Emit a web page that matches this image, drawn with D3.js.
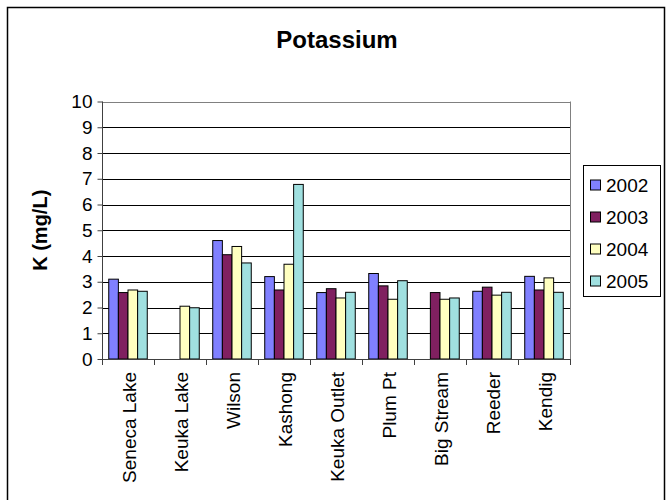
<!DOCTYPE html>
<html><head><meta charset="utf-8">
<script src="https://cdn.jsdelivr.net/npm/d3@7"></script>
<style>
body{margin:0;background:#fff;}
text{font-family:"Liberation Sans",Arial,sans-serif;}
</style></head>
<body>
<svg id="chart" width="666" height="500"></svg>
<script>
const categories = ["Seneca Lake","Keuka Lake","Wilson","Kashong","Keuka Outlet","Plum Pt","Big Stream","Reeder","Kendig"];
const years = ["2002","2003","2004","2005"];
const v2002 = [3.1, null, 4.6, 3.2, 2.58, 3.32, null, 2.63, 3.21];
const v2003 = [2.58, null, 4.05, 2.68, 2.73, 2.84, 2.58, 2.79, 2.68];
const v2004 = [2.68, 2.05, 4.37, 3.68, 2.37, 2.32, 2.32, 2.48, 3.15];
const v2005 = [2.63, 1.99, 3.73, 6.78, 2.59, 3.04, 2.37, 2.59, 2.59];
const yTicks = [0,1,2,3,4,5,6,7,8,9,10];
const colors = ["#8080FF","#802060","#FFFFC0","#A0E0E0"];
const series = [v2002, v2003, v2004, v2005];

const svg = d3.select("#chart");
const L = 102, R = 570, T = 101.5, B = 359;

// outer frame
svg.append("rect").attr("x",7.5).attr("y",7.5).attr("width",657).attr("height",510)
  .attr("fill","none").attr("stroke","#000").attr("stroke-width",1.5);

// title
svg.append("text").attr("x",337).attr("y",48).attr("text-anchor","middle")
  .attr("font-size",24).attr("font-weight","bold").text("Potassium");

const y = d3.scaleLinear().domain([0,10]).range([B,T]);
const x0 = d3.scaleBand().domain(categories).range([L,R]).padding(0);
const x1 = d3.scaleBand().domain(years).range([0,x0.bandwidth()]).paddingInner(0).paddingOuter(0.7);

// gridlines
svg.append("g").selectAll("line").data(yTicks.filter(t=>t>0)).join("line")
  .attr("x1",L).attr("x2",R).attr("y1",d=>Math.round(y(d))+0.5).attr("y2",d=>Math.round(y(d))+0.5)
  .attr("stroke",d=>d===10?"#808080":"#000").attr("stroke-width",1);
// right border of plot area
svg.append("line").attr("x1",R+0.5).attr("x2",R+0.5).attr("y1",T).attr("y2",B)
  .attr("stroke","#808080");

// bars
const rows = categories.map((c,i)=>({c, vals: series.map((s,j)=>({year:years[j], v:s[i], j}))}));
const g = svg.append("g");
rows.forEach(r=>{
  g.selectAll(null).data(r.vals.filter(d=>d.v!=null)).join("rect")
    .attr("x",d=>x0(r.c)+x1(d.year))
    .attr("y",d=>y(d.v))
    .attr("width",x1.bandwidth())
    .attr("height",d=>B-y(d.v))
    .attr("fill",d=>colors[d.j])
    .attr("stroke","#000").attr("stroke-width",1);
});

// y axis
const yAxis = d3.axisLeft(y).tickValues(yTicks).tickSize(5).tickPadding(5).tickFormat(d3.format("d"));
const ya = svg.append("g").attr("transform",`translate(${L+0.5},0)`).call(yAxis);
ya.select(".domain").attr("stroke","#404040").attr("d",`M0,${T}V${B+0.5}`);
ya.selectAll(".tick line").attr("stroke","#404040");
ya.selectAll("text").attr("font-size",19).attr("fill","#000");

// x axis line and ticks at category boundaries
svg.append("line").attr("x1",L).attr("x2",R+1).attr("y1",B+0.5).attr("y2",B+0.5).attr("stroke","#404040");
const bounds = categories.map(c=>x0(c)).concat([R]);
svg.append("g").selectAll("line").data(bounds).join("line")
  .attr("x1",d=>Math.round(d)+0.5).attr("x2",d=>Math.round(d)+0.5)
  .attr("y1",B).attr("y2",B+6).attr("stroke","#404040");

// category labels
svg.append("g").selectAll("text").data(categories).join("text")
  .attr("transform",d=>`translate(${x0(d)+x0.bandwidth()/2+1},372) rotate(-90)`)
  .attr("text-anchor","end").attr("dy","0.35em").attr("font-size",19).text(d=>d);

// y axis title
svg.append("text").attr("transform",`translate(40,${(T+B)/2}) rotate(-90)`)
  .attr("text-anchor","middle").attr("dy","0.35em").attr("font-size",20).attr("font-weight","bold")
  .text("K (mg/L)");

// legend
const lg = svg.append("g");
lg.append("rect").attr("x",583.5).attr("y",165.5).attr("width",77).attr("height",131)
  .attr("fill","#fff").attr("stroke","#000");
const ly = d3.scalePoint().domain(years).range([185,281]);
years.forEach((yr,j)=>{
  lg.append("rect").attr("x",590.5).attr("y",ly(yr)-5).attr("width",10).attr("height",10)
    .attr("fill",colors[j]).attr("stroke","#000");
  lg.append("text").attr("x",606).attr("y",ly(yr)).attr("dy","0.36em").attr("font-size",19).text(yr);
});
</script>
</body></html>
